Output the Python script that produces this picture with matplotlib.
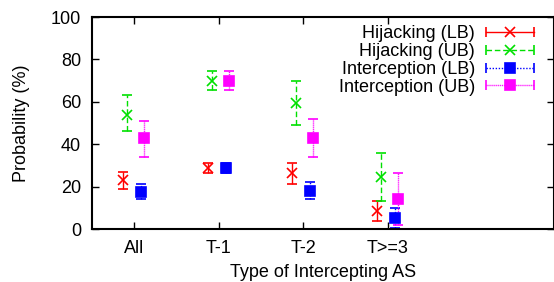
import matplotlib
matplotlib.use("Agg")
import matplotlib.pyplot as plt
from matplotlib.legend_handler import HandlerBase
from matplotlib.lines import Line2D
import numpy as np

plt.rcParams['font.family'] = ['Liberation Sans', 'DejaVu Sans']

categories = ["All", "T-1", "T-2", "T>=3"]
series_names = ["Hijacking (LB)", "Hijacking (UB)", "Interception (LB)", "Interception (UB)"]
hij_lb = [23, 29, 26.5, 8.6]
hij_lb_lo = [19, 26.5, 21, 4]
hij_lb_hi = [27, 31, 31, 13.4]
hij_ub = [54, 70, 59.5, 24.7]
hij_ub_lo = [46, 65.5, 49, 13.4]
hij_ub_hi = [63, 74.5, 70, 36]
int_lb = [17.5, 29, 18, 5]
int_lb_lo = [14, 26.5, 14, 0.5]
int_lb_hi = [21, 31, 22, 10]
int_ub = [43, 70, 43, 14]
int_ub_lo = [34, 65.5, 34, 2]
int_ub_hi = [51, 74.5, 52, 26.5]

colors = ["#ff0000", "#00e000", "#0000ff", "#ff00ff"]
markers = ["x", "x", "s", "s"]
linestyles = ["-", (0, (4, 2)), (0, (1, 1.2)), (0, (0.8, 0.6))]
offsets = [-0.13, -0.08, 0.08, 0.12]

FS = 13
fig = plt.figure(figsize=(5.54, 2.82), dpi=100)
ax = fig.add_axes([92/554, 53/282, 462/554, 212/282])

x = np.arange(1, len(categories) + 1)
data = [(hij_lb, hij_lb_lo, hij_lb_hi), (hij_ub, hij_ub_lo, hij_ub_hi),
        (int_lb, int_lb_lo, int_lb_hi), (int_ub, int_ub_lo, int_ub_hi)]
for i, (v, lo, hi) in enumerate(data):
    v = np.array(v); lo = np.array(lo); hi = np.array(hi)
    eb = ax.errorbar(x + offsets[i], v, yerr=[v - lo, hi - v], fmt=markers[i],
                     color=colors[i], ms=7.8, mew=1.2, capsize=3.5, capthick=1.2,
                     elinewidth=1.0)
    eb[2][0].set_linestyle(linestyles[i])

ax.set_xlim(0.5, 0.5 + 462/84.5)
ax.set_ylim(0, 100)
ax.set_xticks(x)
ax.set_xticklabels(categories)
ax.set_yticks([0, 20, 40, 60, 80, 100])
ax.tick_params(direction='in', top=True, right=True, length=5, width=1, labelsize=FS, pad=8)
ax.tick_params(axis='x', pad=8)
for s in ax.spines.values():
    s.set_linewidth(1.5)
ax.set_ylabel("Probability (%)", fontsize=FS, labelpad=15)
ax.set_xlabel("Type of Intercepting AS", fontsize=FS, labelpad=5)


class HandlerErrH(HandlerBase):
    def create_artists(self, legend, orig_handle, xdescent, ydescent, width, height, fontsize, trans):
        y = height / 2 - ydescent
        idx = handles.index(orig_handle)
        c = colors[idx]
        ls = linestyles[idx]
        mk = markers[idx]
        line = Line2D([-xdescent, -xdescent + width], [y, y], color=c, linestyle=ls, lw=1.0)
        caps = Line2D([-xdescent, -xdescent + width], [y, y], color=c, linestyle='none',
                      marker='|', ms=7, mew=1.2)
        mid = Line2D([-xdescent + width / 2], [y], color=c, linestyle='none', marker=mk,
                     ms=7.8, mew=1.2)
        for a in (line, caps, mid):
            a.set_transform(trans)
        return [line, caps, mid]


handles = [Line2D([], [], color=colors[i], marker=markers[i]) for i in range(4)]
leg = ax.legend(handles, series_names, loc='upper right', bbox_to_anchor=(0.957, 0.96),
                frameon=False, markerfirst=False, handlelength=2.67, handletextpad=0.6,
                labelspacing=0.04, borderpad=0, borderaxespad=0, fontsize=FS,
                handler_map={Line2D: HandlerErrH()})

fig.savefig("out.png", dpi=100)
